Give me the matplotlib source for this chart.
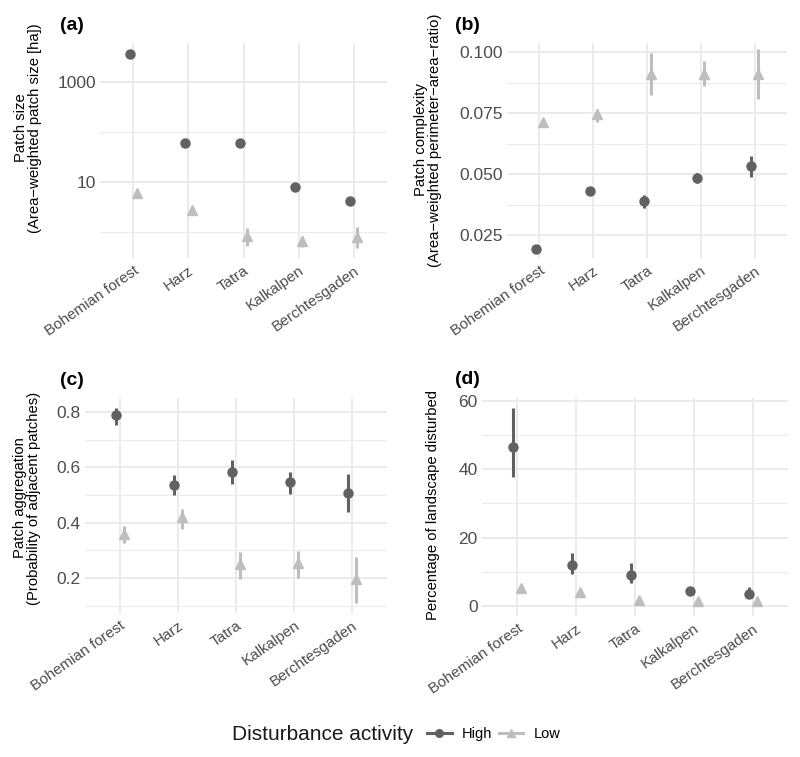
import numpy as np
import matplotlib
matplotlib.use("Agg")
import matplotlib.pyplot as plt
from matplotlib.lines import Line2D

plt.rcParams['font.family'] = ['Liberation Sans', 'DejaVu Sans']

# categories
sites = ["Bohemian forest", "Harz", "Tatra", "Kalkalpen", "Berchtesgaden"]

# (a) patch size [ha], log scale
a_high = [3560, 59, 61, 8.1, 4.2]
a_high_lo = [3500, 57, 59, 7.8, 3.5]
a_high_hi = [3620, 61, 63, 8.4, 5.1]
a_low = [5.9, 2.7, 0.83, 0.67, 0.78]
a_low_lo = [5.7, 2.6, 0.52, 0.51, 0.47]
a_low_hi = [6.1, 2.8, 1.22, 0.83, 1.24]

# (b) patch complexity
b_high = [0.0195, 0.0431, 0.0389, 0.0484, 0.0532]
b_high_lo = [0.0192, 0.0427, 0.0361, 0.0462, 0.0487]
b_high_hi = [0.0198, 0.0435, 0.0414, 0.0505, 0.0576]
b_low = [0.0716, 0.0747, 0.0913, 0.0913, 0.0910]
b_low_lo = [0.0705, 0.0715, 0.0827, 0.0863, 0.0809]
b_low_hi = [0.0725, 0.0768, 0.0997, 0.0965, 0.1014]

# (c) patch aggregation
c_high = [0.788, 0.537, 0.585, 0.546, 0.509]
c_high_lo = [0.755, 0.501, 0.541, 0.505, 0.440]
c_high_hi = [0.816, 0.573, 0.628, 0.583, 0.577]
c_low = [0.359, 0.419, 0.249, 0.255, 0.196]
c_low_lo = [0.326, 0.377, 0.195, 0.199, 0.108]
c_low_hi = [0.389, 0.451, 0.295, 0.299, 0.277]

# (d) percentage of landscape disturbed
d_high = [46.6, 12.0, 9.1, 4.3, 3.5]
d_high_lo = [37.7, 9.4, 6.8, 3.4, 2.4]
d_high_hi = [57.9, 15.4, 12.5, 5.4, 5.6]
d_low = [5.3, 4.1, 1.9, 1.4, 1.5]
d_low_lo = [4.9, 3.8, 1.6, 1.1, 1.1]
d_low_hi = [5.7, 4.4, 2.2, 1.7, 1.9]

c_dark = "#616163"
c_light = "#BEBEBE"
grid_col = "#EBEBEB"
txt_col = "#4D4D4D"

fig = plt.figure(figsize=(8, 7.57), dpi=100)
W, H = 800, 757


def add_ax(x0, y0, x1, y1):
    return fig.add_axes([x0 / W, 1 - y1 / H, (x1 - x0) / W, (y1 - y0) / H])


def px_text(x, y, s, **kw):
    return fig.text(x / W, 1 - y / H, s, **kw)


def panel(ax, hi, hi_lo, hi_hi, lo, lo_lo, lo_hi, log=False):
    x = np.arange(len(sites))
    off = 0.065
    ax.vlines(x - off, hi_lo, hi_hi, color=c_dark, lw=2.2, zorder=3)
    ax.plot(x - off, hi, 'o', color=c_dark, ms=6.5, zorder=4)
    ax.vlines(x + off, lo_lo, lo_hi, color=c_light, lw=2.2, zorder=3)
    ax.plot(x + off, lo, '^', color=c_light, ms=7, zorder=4)
    if log:
        ax.set_yscale('log')
    ax.set_xlim(-0.6, len(sites) - 0.4)
    ax.set_xticks(x)
    ax.set_xticklabels(sites, rotation=35, ha='right', rotation_mode='anchor',
                       fontsize=11, color=txt_col)
    ax.tick_params(axis='both', length=0, pad=3, labelsize=12.5, labelcolor=txt_col)
    ax.tick_params(axis='x', labelsize=11, pad=4)
    ax.tick_params(which='minor', length=0)
    for s in ax.spines.values():
        s.set_visible(False)
    ax.grid(True, which='major', color=grid_col, lw=1.4, zorder=0)
    ax.grid(True, which='minor', axis='y', color=grid_col, lw=0.8, zorder=0)
    ax.set_axisbelow(True)


# (a)
ax1 = add_ax(100, 43, 387, 258)
panel(ax1, a_high, a_high_lo, a_high_hi, a_low, a_low_lo, a_low_hi, log=True)
ax1.set_ylim(10 ** -0.52, 10 ** 3.78)
ax1.set_yticks([10, 1000])
ax1.set_yticklabels(["10", "1000"])
ax1.set_yticks([1, 100], minor=True)
ax1.yaxis.set_minor_formatter(plt.NullFormatter())

# (b)
ax2 = add_ax(507, 43, 787, 258)
panel(ax2, b_high, b_high_lo, b_high_hi, b_low, b_low_lo, b_low_hi)
ax2.set_ylim(0.0156, 0.1039)
ax2.set_yticks([0.025, 0.05, 0.075, 0.1])
ax2.set_yticklabels(["0.025", "0.050", "0.075", "0.100"])
ax2.set_yticks([0.0375, 0.0625, 0.0875], minor=True)

# (c)
ax3 = add_ax(85, 398, 387, 613)
panel(ax3, c_high, c_high_lo, c_high_hi, c_low, c_low_lo, c_low_hi)
ax3.set_ylim(0.073, 0.851)
ax3.set_yticks([0.2, 0.4, 0.6, 0.8])
ax3.set_yticklabels(["0.2", "0.4", "0.6", "0.8"])
ax3.set_yticks([0.1, 0.3, 0.5, 0.7], minor=True)

# (d)
ax4 = add_ax(482, 398, 788, 616)
panel(ax4, d_high, d_high_lo, d_high_hi, d_low, d_low_lo, d_low_hi)
ax4.set_ylim(-2.9, 60.8)
ax4.set_yticks([0, 20, 40, 60])
ax4.set_yticks([10, 30, 50], minor=True)

# y axis titles
ylab = dict(rotation=90, ha='center', va='center', fontsize=10.7,
            linespacing=1.0, color="black")
px_text(28, 128, "Patch size\n(Area\u2212weighted patch size [ha])", **ylab)
px_text(428, 140, "Patch complexity\n(Area\u2212weighted perimeter\u2212area\u2212ratio)", **ylab)
px_text(27, 498, "Patch aggregation\n(Probability of adjacent patches)", **ylab)
px_text(433, 505, "Percentage of landscape disturbed", **ylab)

# panel tags
tag = dict(fontsize=14, fontweight='bold', ha='left', va='baseline')
px_text(60, 30, "(a)", **tag)
px_text(455, 30, "(b)", **tag)
px_text(60, 385, "(c)", **tag)
px_text(455, 384, "(d)", **tag)

# legend
px_text(232, 734, "Disturbance activity", fontsize=15, va='center', ha='left',
        color="#1A1A1A")
handles = [
    Line2D([0], [0], color=c_dark, lw=2.2, marker='o', ms=5.5),
    Line2D([0], [0], color=c_light, lw=2.2, marker='^', ms=6),
]
fig.legend(handles, ["High", "Low"], loc='center left',
           bbox_to_anchor=(427 / W, 1 - 734 / H), ncol=2, frameon=False,
           fontsize=10.5, handlelength=1.7, handletextpad=0.68,
           columnspacing=0.45, borderpad=0, borderaxespad=0)

fig.savefig("out.png", dpi=100)
